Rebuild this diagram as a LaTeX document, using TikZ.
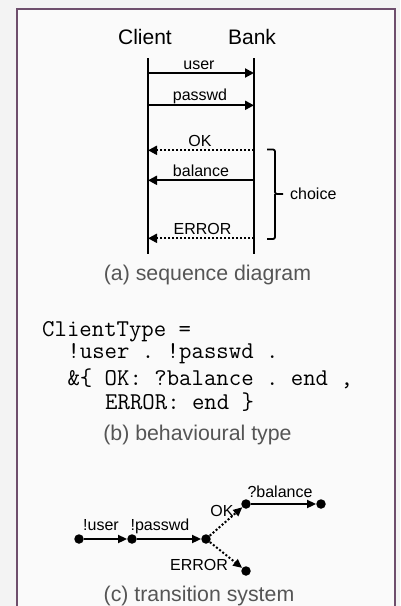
\documentclass[tikz,border=0pt]{standalone}
\usepackage{fontspec}
\setmainfont{Liberation Sans}
\usetikzlibrary{arrows.meta}
\definecolor{framecol}{RGB}{110,78,108}
\definecolor{outerbg}{RGB}{243,243,243}
\definecolor{innerbg}{RGB}{250,250,250}
\definecolor{capgray}{RGB}{85,85,85}
\begin{document}
\begin{tikzpicture}[x=1pt,y=-1pt,
  bigtext/.style={font=\fontsize{21}{24}\selectfont, inner sep=0, anchor=base},
  lbltext/.style={font=\fontsize{16}{18}\selectfont, inner sep=0, anchor=base},
  captext/.style={font=\fontsize{21.3}{24}\selectfont, text=capgray, inner sep=0, anchor=center},
  codeline/.style={font=\ttfamily\fontsize{24.1}{27}\selectfont\frenchspacing, inner sep=0, anchor=base west},
  lifeline/.style={line width=2pt},
  msgarrow/.style={line width=2pt, -{Triangle[length=9pt,width=9pt]}},
  bracket/.style={line width=1.8pt, rounded corners=2pt},
  statedot/.style={circle, fill=black, inner sep=0, minimum size=9.5pt},
  transarrow/.style={line width=2pt, -{Triangle[length=9pt,width=8pt]}}
]
\useasboundingbox (0,0) rectangle (400,606);
\clip (0,0) rectangle (400,606);
\fill[outerbg] (0,0) rectangle (400,606);
\draw[framecol, line width=2pt, fill=innerbg] (17,8.5) rectangle (395,620);

% ---------- (a) sequence diagram ----------
\node[bigtext] (client) at (145,44.3) {Client};
\node[bigtext] (bank) at (252,44.3) {Bank};
\coordinate (ctop) at (148,58);
\coordinate (cbot) at (148,254);
\coordinate (btop) at (254,58);
\coordinate (bbot) at (254,254);
\draw[lifeline] (ctop) -- (cbot);
\draw[lifeline] (btop) -- (bbot);

\coordinate (c1) at (148,73);    \coordinate (b1) at (254,73);
\coordinate (c2) at (148,105.3); \coordinate (b2) at (254,105.3);
\coordinate (c3) at (148,150.3); \coordinate (b3) at (254,150.3);
\coordinate (c4) at (148,180.3); \coordinate (b4) at (254,180.3);
\coordinate (c5) at (148,238.3); \coordinate (b5) at (254,238.3);

\draw[msgarrow] (c1) -- (b1);
\node[lbltext] (luser) at (199,69) {user};
\draw[msgarrow] (c2) -- (b2);
\node[lbltext] (lpass) at (200,100) {passwd};
\draw[msgarrow, dotted] (b3) -- (c3);
\node[lbltext] (lok) at (200,146) {OK};
\draw[msgarrow] (b4) -- (c4);
\node[lbltext] (lbal) at (201,176.3) {balance};
\draw[msgarrow, dotted] (b5) -- (c5);
\node[lbltext] (lerr) at (202.5,234.3) {ERROR};

\coordinate (brtop) at (267,149.5);
\coordinate (brbot) at (267,239);
\coordinate (brmid) at (283,194);
\draw[bracket] (brtop) -- (275,149.5) -- (275,194) -- (brmid);
\draw[bracket] (brbot) -- (275,239) -- (275,194);
\node[lbltext, anchor=base west] (choice) at (290,199.3) {choice};

\node[captext] (capa) at (207.5,275) {(a) sequence diagram};

% ---------- (b) behavioural type ----------
\node[codeline] (code1) at (42,336) {ClientType =};
\node[codeline] (code2) at (67.3,358.5) {!user . !passwd .};
\node[codeline] (code3) at (67.3,385.7) {\&\{ OK: ?balance . end ,};
\node[codeline] (code4) at (105,409.3) {ERROR: end \}};

\node[captext] (capb) at (197.5,435) {(b) behavioural type};

% ---------- (c) transition system ----------
\node[statedot] (t0) at (79,539) {};
\node[statedot] (t1) at (132,539) {};
\node[statedot] (t2) at (206,539) {};
\node[statedot] (t3) at (246,504) {};
\node[statedot] (t4) at (321,504) {};
\node[statedot] (t5) at (246,571) {};
\draw[transarrow] (t0) -- (t1);
\draw[transarrow] (t1) -- (t2);
\draw[transarrow, dotted] (t2) -- (t3);
\draw[transarrow] (t3) -- (t4);
\draw[transarrow, dotted] (t2) -- (t5);
\node[lbltext] (luser2) at (101,530) {!user};
\node[lbltext] (lpass2) at (160,530) {!passwd};
\node[lbltext] (lok2) at (222,516) {OK};
\node[lbltext] (lbal2) at (280,497) {?balance};
\node[lbltext] (lerr2) at (199,570.7) {ERROR};

\node[captext] (capc) at (199,596) {(c) transition system};
\end{tikzpicture}
\end{document}
